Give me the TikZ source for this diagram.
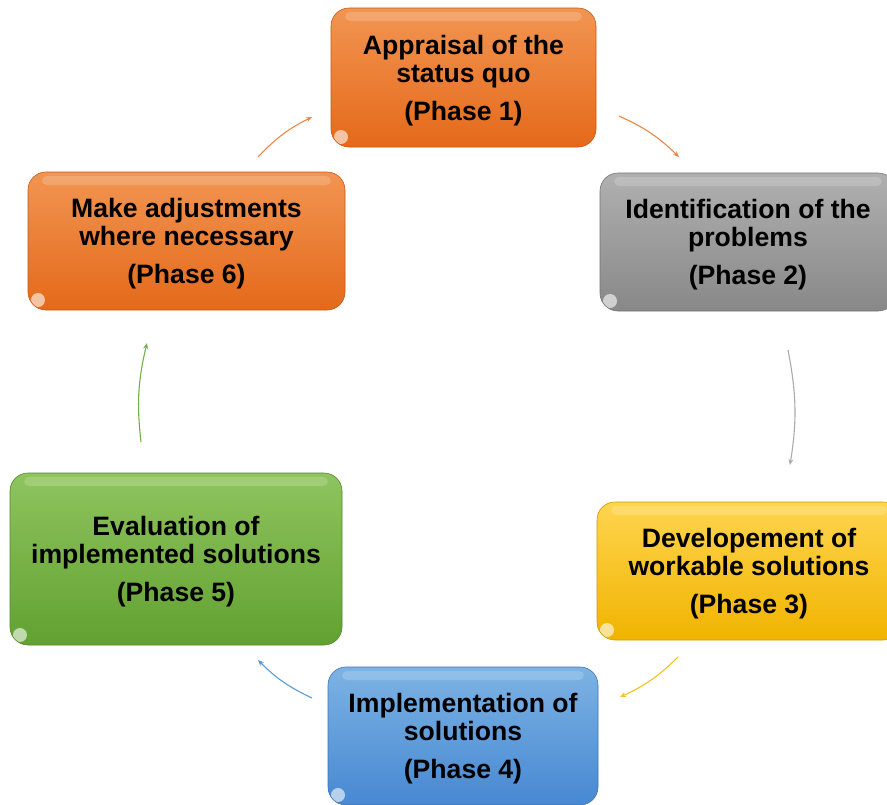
\documentclass[tikz,border=0pt]{standalone}
\usepackage{fontspec}
\setmainfont{Liberation Sans}
\usetikzlibrary{arrows.meta}
\definecolor{orT}{HTML}{F29552}
\definecolor{orB}{HTML}{E4691A}
\definecolor{orL}{HTML}{F08443}
\definecolor{grT}{HTML}{B0B0B0}
\definecolor{grB}{HTML}{888888}
\definecolor{grL}{HTML}{ABABAB}
\definecolor{yeT}{HTML}{FFD54F}
\definecolor{yeB}{HTML}{F0B400}
\definecolor{yeL}{HTML}{F6C22A}
\definecolor{blT}{HTML}{7DB3E4}
\definecolor{blB}{HTML}{4788D2}
\definecolor{blL}{HTML}{5B9BD5}
\definecolor{gnT}{HTML}{8FC45E}
\definecolor{gnB}{HTML}{62A131}
\definecolor{gnL}{HTML}{72B045}
\newcommand{\topstrut}{\rule{0pt}{25pt}}
\tikzset{
  phasebox/.style n args={4}{rounded corners=18pt, align=center,
    font=\bfseries\fontsize{26.6}{28}\selectfont, inner sep=0pt,
    top color=#1, bottom color=#2, draw=#2!85!black, line width=0.6pt,
    minimum width=#3, minimum height=#4,
    path picture={
      \fill[white,opacity=0.18,rounded corners=5pt]
        ([xshift=14pt,yshift=-4pt]path picture bounding box.north west) rectangle
        ([xshift=-14pt,yshift=-13pt]path picture bounding box.north east);
      \fill[white,opacity=0.6]
        ([xshift=10pt,yshift=10pt]path picture bounding box.south west) circle (7pt);
    }},
  cyc/.style={line width=1.1pt, -{Stealth[length=6pt,width=5pt]}, bend left=10}
}
\begin{document}
\begin{tikzpicture}[x=1pt,y=-1pt]
\useasboundingbox (0,0) rectangle (887,804);
\node[phasebox={orT}{orB}{265pt}{139pt}] (n1) at (463.5,77.5)
  {\topstrut Appraisal of the\\status quo\\[10pt](Phase 1)};
\node[phasebox={grT}{grB}{296pt}{138pt}] (n2) at (748,242)
  {\topstrut Identification of the\\problems\\[10pt](Phase 2)};
\node[phasebox={yeT}{yeB}{304pt}{138pt}] (n3) at (749,571)
  {\topstrut Developement of\\workable solutions\\[10pt](Phase 3)};
\node[phasebox={blT}{blB}{270pt}{138pt}] (n4) at (463,736)
  {\topstrut Implementation of\\solutions\\[10pt](Phase 4)};
\node[phasebox={gnT}{gnB}{332pt}{172pt}] (n5) at (176,559)
  {\topstrut Evaluation of\\implemented solutions\\[10pt](Phase 5)};
\node[phasebox={orT}{orB}{317pt}{138pt}] (n6) at (186.5,241)
  {\topstrut Make adjustments\\where necessary\\[10pt](Phase 6)};
\coordinate (a1s) at (258,157); \coordinate (a1e) at (312,117);
\coordinate (a2s) at (619,116); \coordinate (a2e) at (679,157);
\coordinate (a3s) at (788,350); \coordinate (a3e) at (790,465);
\coordinate (a4s) at (678,657); \coordinate (a4e) at (620,697);
\coordinate (a5s) at (312,698); \coordinate (a5e) at (258,660);
\coordinate (a6s) at (141,442); \coordinate (a6e) at (147,343);
\draw[cyc,orL] (a1s) to (a1e);
\draw[cyc,orL] (a2s) to (a2e);
\draw[cyc,grL] (a3s) to (a3e);
\draw[cyc,yeL] (a4s) to (a4e);
\draw[cyc,blL] (a5s) to (a5e);
\draw[cyc,gnL] (a6s) to (a6e);
\end{tikzpicture}
\end{document}
